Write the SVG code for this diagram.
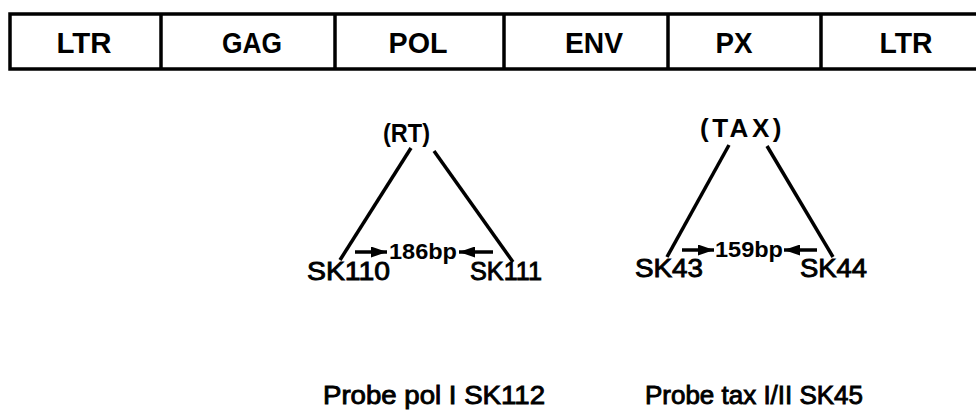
<svg xmlns="http://www.w3.org/2000/svg" width="976" height="411" viewBox="0 0 976 411">
<defs>
<style>
.box{fill:#fff;stroke:#000;stroke-width:3.5}
.seg{font-family:"Liberation Sans",Arial,sans-serif;font-weight:bold;font-size:29px;fill:#000;text-anchor:middle}
.gene{font-family:"Liberation Sans",Arial,sans-serif;font-weight:bold;font-size:26px;fill:#000}
.bp{font-family:"Liberation Sans",Arial,sans-serif;font-weight:bold;font-size:22px;fill:#000}
.lab{font-family:"Liberation Sans",Arial,sans-serif;font-size:26px;fill:#000;stroke:#000;stroke-width:0.9}
.ln{stroke:#000;stroke-width:3.5;fill:none}
.ar{stroke:#000;stroke-width:3.5;fill:none}
</style>
<marker id="ah" viewBox="0 0 16 11" refX="16" refY="5.5" markerWidth="16" markerHeight="11" orient="auto" markerUnits="userSpaceOnUse">
<path d="M0,0 L16,5.5 L0,11 Z" fill="#000"/>
</marker>
</defs>
<g id="genome">
<path class="box" d="M980,14 L10,14 L10,69 L980,69"/>
<line class="box" x1="161" y1="14" x2="161" y2="69"/>
<line class="box" x1="335" y1="14" x2="335" y2="69"/>
<line class="box" x1="504" y1="14" x2="504" y2="69"/>
<line class="box" x1="668" y1="14" x2="668" y2="69"/>
<line class="box" x1="821" y1="14" x2="821" y2="69"/>
</g>
<g id="ltr1"><text class="seg" x="84" y="53" textLength="55" lengthAdjust="spacingAndGlyphs">LTR</text></g>
<g id="gag"><text class="seg" x="252" y="53" textLength="60" lengthAdjust="spacingAndGlyphs">GAG</text></g>
<g id="pol"><text class="seg" x="418" y="53" textLength="59" lengthAdjust="spacingAndGlyphs">POL</text></g>
<g id="env"><text class="seg" x="594" y="53" textLength="58" lengthAdjust="spacingAndGlyphs">ENV</text></g>
<g id="px"><text class="seg" x="734" y="53" textLength="37" lengthAdjust="spacingAndGlyphs">PX</text></g>
<g id="ltr2"><text class="seg" x="906" y="53" textLength="53" lengthAdjust="spacingAndGlyphs">LTR</text></g>
<g id="rt"><text class="gene" x="383" y="142" textLength="47" lengthAdjust="spacingAndGlyphs">(RT)</text></g>
<g id="tax"><text class="gene" x="700" y="137" letter-spacing="3.5">(TAX)</text></g>
<g id="sk110"><text class="lab" x="307" y="280" textLength="83" lengthAdjust="spacingAndGlyphs">SK110</text></g>
<g id="sk111"><text class="lab" x="470" y="280" textLength="72" lengthAdjust="spacingAndGlyphs">SK111</text></g>
<g id="sk43"><text class="lab" x="635" y="277" textLength="68" lengthAdjust="spacingAndGlyphs">SK43</text></g>
<g id="sk44"><text class="lab" x="800" y="277" textLength="67" lengthAdjust="spacingAndGlyphs">SK44</text></g>
<g id="bp186"><text class="bp" x="389" y="259" textLength="68" lengthAdjust="spacingAndGlyphs">186bp</text></g>
<g id="bp159"><text class="bp" x="715" y="257" textLength="68" lengthAdjust="spacingAndGlyphs">159bp</text></g>
<g id="probe1"><text class="lab" x="323" y="404" textLength="222" lengthAdjust="spacingAndGlyphs">Probe pol I SK112</text></g>
<g id="probe2"><text class="lab" x="645" y="404" textLength="218" lengthAdjust="spacingAndGlyphs">Probe tax I/II SK45</text></g>
<g id="connectors">
<line class="ln" x1="411" y1="148" x2="340" y2="260"/>
<line class="ln" x1="434" y1="151" x2="513" y2="262"/>
<line class="ln" x1="729" y1="145" x2="667" y2="257"/>
<line class="ln" x1="767" y1="146" x2="833" y2="257"/>
<line class="ar" x1="355" y1="252" x2="387" y2="252" marker-end="url(#ah)"/>
<line class="ar" x1="493" y1="252" x2="459" y2="252" marker-end="url(#ah)"/>
<line class="ar" x1="682" y1="250" x2="714" y2="250" marker-end="url(#ah)"/>
<line class="ar" x1="817" y1="250" x2="784" y2="250" marker-end="url(#ah)"/>
</g>
</svg>
